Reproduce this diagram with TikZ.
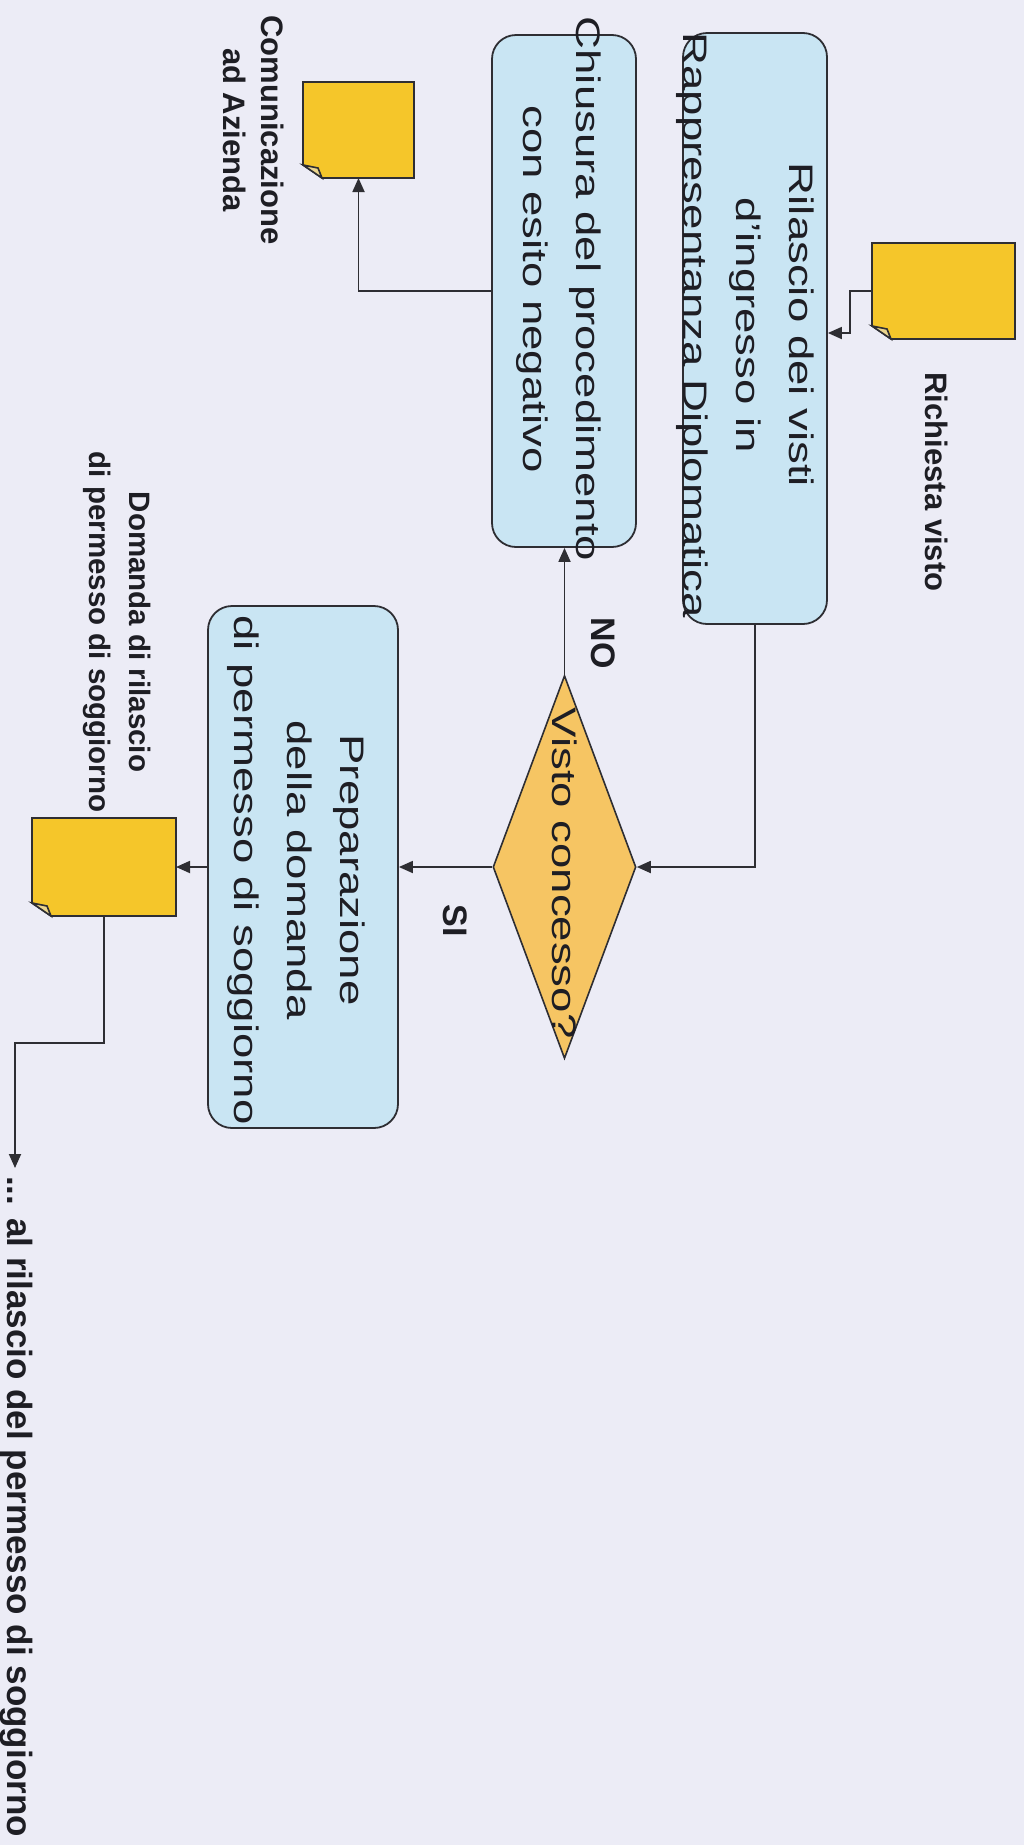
\documentclass[tikz,border=0pt]{standalone}
\usepackage{fontspec}
\setmainfont{Liberation Sans}
\newfontfamily\stretchfont[FakeStretch=1.34]{Liberation Sans}
\usetikzlibrary{arrows.meta,shapes.geometric,calc}
\definecolor{bgc}{HTML}{ECECF6}
\definecolor{boxfill}{HTML}{C9E5F3}
\definecolor{docfill}{HTML}{F5C62A}
\definecolor{foldfill}{HTML}{EBD58E}
\definecolor{diafill}{HTML}{F6C563}
\definecolor{linec}{HTML}{2E2E33}
\definecolor{txt}{HTML}{1E1E24}
\newcommand\foldeddoc[1]{%
  \draw[docline, fill=docfill] (#1.north west) -- (#1.north east) -- (#1.south east)
    -- ($(#1.south west)+(19,0)$) -- ($(#1.south west)+(0,-13)$) -- cycle;
  \draw[docline, fill=foldfill] ($(#1.south west)+(19,0)$) -- ($(#1.south west)+(0,-13)$)
    -- ($(#1.south west)+(15,-10)$) -- cycle;}
\begin{document}
\begin{tikzpicture}[x=1pt,y=-1pt,
  boxst/.style={draw=linec, line width=1.8pt, fill=boxfill, rounded corners=24pt, inner sep=0pt},
  boxtxt/.style={rotate=-90, align=center, text=txt, inner sep=0pt,
    font=\stretchfont\fontsize{34}{53}\selectfont},
  diast/.style={diamond, draw=linec, line width=1.6pt, fill=diafill, inner sep=0pt},
  docnode/.style={inner sep=0pt, outer sep=0pt, draw=none},
  docline/.style={draw=linec, line width=1.6pt, line join=miter},
  lbl/.style={rotate=-90, align=center, text=txt, inner sep=0pt,
    font=\bfseries\fontsize{31}{38}\selectfont},
  yn/.style={rotate=-90, text=txt, inner sep=0pt, font=\bfseries\fontsize{34}{40}\selectfont},
  arr/.style={draw=linec, line width=1.8pt, -{Triangle[length=14pt,width=12pt]}},
]
\useasboundingbox (0,0) rectangle (1024,1845);
\fill[bgc] (0,0) rectangle (1024,1845);

% shapes
\node[docnode, minimum width=143pt, minimum height=96pt] (doc1) at (943.5,291) {};
\node[docnode, minimum width=111pt, minimum height=96pt] (doc2) at (358.5,130) {};
\node[docnode, minimum width=144pt, minimum height=98pt] (doc3) at (104,867) {};
\foldeddoc{doc1}
\foldeddoc{doc2}
\foldeddoc{doc3}

\node[boxst, minimum width=144pt, minimum height=591pt] (box1) at (755,328.5) {};
\node[boxst, minimum width=144pt, minimum height=512pt] (box2) at (564,291) {};
\node[boxst, minimum width=190pt, minimum height=522pt] (box3) at (303,867) {};
\node[diast, minimum width=143pt, minimum height=383pt] (dia) at (564.5,867) {};

% texts
\node[boxtxt] (box1t) at (745,325) {Rilascio dei visti\\d’ingresso in\\Rappresentanza Diplomatica};
\node[boxtxt] (box2t) at (559,289) {Chiusura del procedimento\\con esito negativo};
\node[boxtxt] (box3t) at (296,870) {Preparazione\\della domanda\\di permesso di soggiorno};
\node[boxtxt] (diat) at (565,873) {Visto concesso?};

\node[lbl] (lbl1) at (937,482) {Richiesta visto};
\node[lbl] (lbl2) at (254,130) {Comunicazione\\ad Azienda};
\node[lbl, font=\bfseries\fontsize{29.5}{40}\selectfont] (lbl3) at (117,632) {Domanda di rilascio\\di permesso di soggiorno};
\node[yn] (no) at (603.5,643) {NO};
\node[yn] (si) at (455,921) {SI};
\node[lbl, anchor=west, font=\bfseries\fontsize{35}{40}\selectfont] (endlbl) at (16,1176) {... al rilascio del permesso di soggiorno};

% connectors
\coordinate (j1) at (850,333);
\coordinate (k1) at (15,1043);
\coordinate (endp) at (15,1168);
\draw[arr] (doc1.west) -| (j1) -- (j1 -| box1.east);
\draw[arr] (box1.south) |- (dia.east);
\draw[arr] (dia.north) -- (dia.north |- box2.south);
\draw[arr] (box2.west) -| (doc2.south);
\draw[arr] (dia.west) -- (dia.west -| box3.east);
\draw[arr] (box3.west) -- (box3.west -| doc3.east);
\draw[arr] (doc3.south) |- (k1) -- (endp);
\end{tikzpicture}
\end{document}
